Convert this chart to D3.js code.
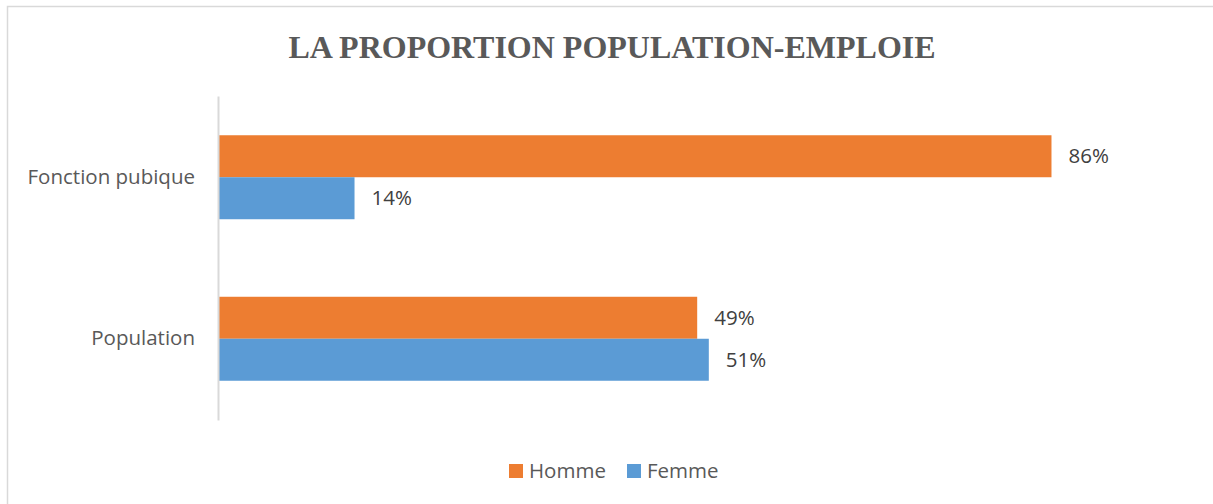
<!DOCTYPE html>
<html><head><meta charset="utf-8">
<script src="https://cdn.jsdelivr.net/npm/d3@7"></script>
<style>body{margin:0;background:#fff}svg{display:block}</style>
</head><body><svg id="c" width="1213" height="504"></svg>
<script>
const categories = ["Fonction pubique", "Population"];
const seriesNames = ["Homme", "Femme"];
const homme = [0.86, 0.494];
const femme = [0.14, 0.506];
const colors = ["#ED7D31", "#5B9BD5"];
const title = "LA PROPORTION POPULATION-EMPLOIE";

const svg = d3.select("#c");
svg.append("rect").attr("x",7.5).attr("y",6.5).attr("width",1220).attr("height",510)
  .attr("fill","#fff").attr("stroke","#d9d9d9").attr("stroke-width",1.5);

svg.append("text").attr("x",612).attr("y",58).attr("text-anchor","middle")
  .attr("font-family","Liberation Serif, Times New Roman, serif").attr("font-weight","bold")
  .attr("font-size",32).attr("fill","#595959").text(title);

const x = d3.scaleLinear().domain([0,1]).range([219, 1187]);
const y = d3.scaleBand().domain(categories).range([96,420]).paddingInner(0.48).paddingOuter(0.243);
const ySub = d3.scaleBand().domain(seriesNames).range([0, y.bandwidth()]);

const data = categories.map((c,i)=>({cat:c, vals:[homme[i], femme[i]]}));
const font = "Open Sans, Noto Sans, sans-serif";
const fs = 20.5;

const g = svg.append("g");
data.forEach(d=>{
  d.vals.forEach((v,j)=>{
    const yy = y(d.cat)+ySub(seriesNames[j]);
    g.append("rect").attr("x",x(0)).attr("y",yy).attr("width",x(v)-x(0)).attr("height",ySub.bandwidth())
      .attr("fill",colors[j]);
    g.append("text").attr("x",x(v)+17).attr("y",yy+ySub.bandwidth()/2).attr("dy","0.35em")
      .attr("font-family",font).attr("font-size",fs).attr("fill","#404040")
      .text(d3.format(".0%")(v));
  });
});

const yAxis = d3.axisLeft(y).tickSize(0).tickPadding(23);
const ax = svg.append("g").attr("transform",`translate(218,0)`).call(yAxis);
ax.select(".domain").attr("stroke","#d9d9d9").attr("stroke-width",2);
ax.selectAll("text").attr("font-family",font).attr("font-size",fs).attr("fill","#595959");

const leg = svg.append("g");
const legX = [509, 627];
seriesNames.forEach((s,j)=>{
  leg.append("rect").attr("x",legX[j]).attr("y",464).attr("width",14).attr("height",14).attr("fill",colors[j]);
  leg.append("text").attr("x",legX[j]+20).attr("y",471).attr("dy","0.35em")
    .attr("font-family",font).attr("font-size",fs).attr("fill","#595959").text(s);
});
</script></body></html>
